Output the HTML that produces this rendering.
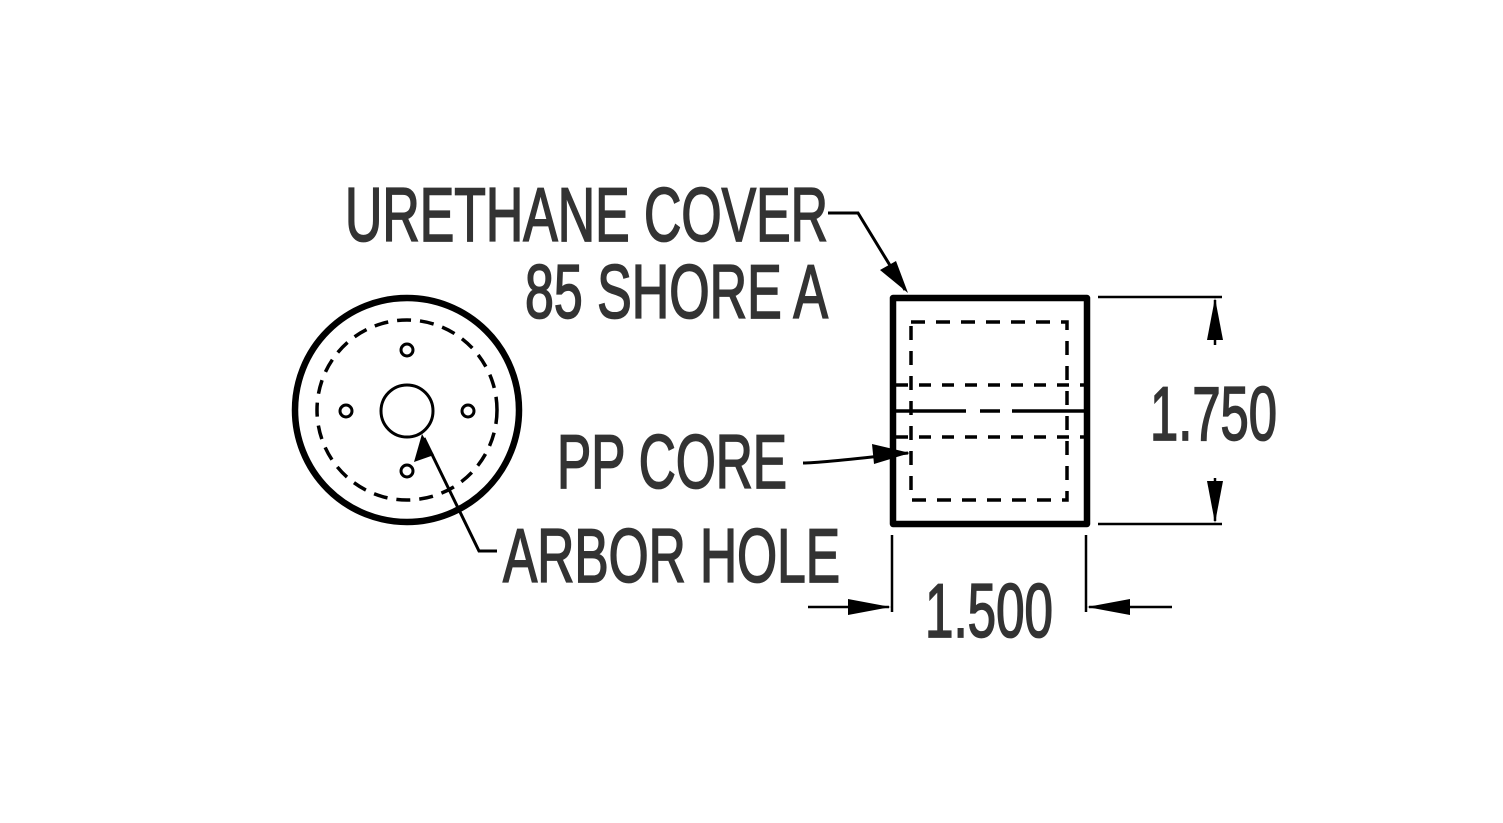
<!DOCTYPE html>
<html><head><style>body{margin:0;background:#fff}svg{display:block}</style></head><body>
<svg width="1503" height="823" viewBox="0 0 1503 823" xmlns="http://www.w3.org/2000/svg">
<g fill="none" stroke="#000">
<circle cx="407" cy="410" r="112" stroke-width="6.5"/>
<circle cx="407" cy="410" r="90" stroke-width="3.5" stroke-dasharray="14,9"/>
<circle cx="407" cy="411" r="26" stroke-width="3"/>
<circle cx="407" cy="350" r="6" stroke-width="3"/>
<circle cx="407" cy="471" r="6" stroke-width="3"/>
<circle cx="346" cy="411" r="6" stroke-width="3"/>
<circle cx="468" cy="411" r="6" stroke-width="3"/>
<rect x="893" y="298" width="194" height="226" stroke-width="6.5" stroke-linejoin="round"/>
<rect x="911" y="322" width="156" height="178" stroke-width="3.5" stroke-dasharray="14,11"/>
<line x1="896" y1="385" x2="1084" y2="385" stroke-width="3.5" stroke-dasharray="12,11"/>
<line x1="896" y1="437" x2="1084" y2="437" stroke-width="3.5" stroke-dasharray="12,11"/>
<path d="M896 411H966M980 411H1000M1012 411H1084" stroke-width="3.5"/>
<path d="M497 551H479L424 438" stroke-width="3"/>
<path d="M828 213H858L905 290" stroke-width="3"/>
<path d="M803 463Q820 463 908 453" stroke-width="3"/>
<path d="M1098 297H1222M1098 524H1222M1215 345V300M1215 478V521M892 535V612M1086 535V612M808 607H889M1172 607H1089" stroke-width="2.5"/>
</g>
<g fill="#000">
<path d="M422 434L414 462L434 455Z"/>
<path d="M908 293L880 270L896 261Z"/>
<path d="M910 453L872 444L874 464Z"/>
<path d="M1215 298L1207 340L1223 340Z"/>
<path d="M1215 523L1207 481L1223 481Z"/>
<path d="M891 607L848 599L848 615Z"/>
<path d="M1087 607L1130 599L1130 615Z"/>
</g>
<g fill="#333" stroke="#333" stroke-width="1.8" font-family="Liberation Sans, sans-serif" font-size="76">
<text x="345" y="241" textLength="483" lengthAdjust="spacingAndGlyphs">URETHANE COVER</text>
<text x="525" y="318" textLength="303" lengthAdjust="spacingAndGlyphs">85 SHORE A</text>
<text x="557" y="488" textLength="230" lengthAdjust="spacingAndGlyphs">PP CORE</text>
<text x="503" y="582" textLength="337" lengthAdjust="spacingAndGlyphs">ARBOR HOLE</text>
<text x="1150" y="440" textLength="127" lengthAdjust="spacingAndGlyphs">1.750</text>
<text x="925" y="637" textLength="128" lengthAdjust="spacingAndGlyphs">1.500</text>
</g>
</svg>
</body></html>
